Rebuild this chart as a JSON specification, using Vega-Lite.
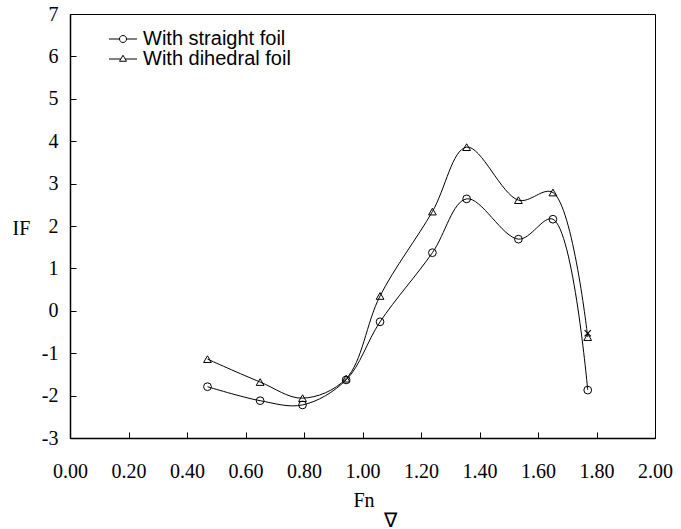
{
  "$schema": "https://vega.github.io/schema/vega-lite/v6.json",
  "width": 585,
  "height": 424,
  "autosize": {"type": "none"},
  "padding": {"left": 70, "top": 14, "right": 26, "bottom": 91},
  "background": "white",
  "config": {
    "view": {"stroke": "black", "strokeWidth": 1},
    "axis": {
      "grid": false,
      "labelFlush": false,
      "labelOverlap": false,
      "domainColor": "black",
      "domainWidth": 1.5,
      "tickColor": "black",
      "tickWidth": 1,
      "tickSize": -6,
      "labelFont": "Liberation Serif",
      "labelFontSize": 20,
      "labelColor": "black",
      "titleFont": "Liberation Serif",
      "titleFontSize": 20,
      "titleFontWeight": "normal",
      "titleColor": "black"
    },
    "legend": {
      "labelFont": "Liberation Sans",
      "labelFontSize": 20,
      "labelColor": "black"
    }
  },
  "data": {
    "values": [
      {"series": "With straight foil", "fn": 0.47, "IF": -1.79},
      {"series": "With straight foil", "fn": 0.65, "IF": -2.12},
      {"series": "With straight foil", "fn": 0.795, "IF": -2.22},
      {"series": "With straight foil", "fn": 0.944, "IF": -1.63},
      {"series": "With straight foil", "fn": 1.06, "IF": -0.26},
      {"series": "With straight foil", "fn": 1.239, "IF": 1.37},
      {"series": "With straight foil", "fn": 1.356, "IF": 2.64},
      {"series": "With straight foil", "fn": 1.533, "IF": 1.69},
      {"series": "With straight foil", "fn": 1.651, "IF": 2.16},
      {"series": "With straight foil", "fn": 1.77, "IF": -1.87},
      {"series": "With dihedral foil", "fn": 0.47, "IF": -1.14},
      {"series": "With dihedral foil", "fn": 0.65, "IF": -1.68},
      {"series": "With dihedral foil", "fn": 0.795, "IF": -2.06},
      {"series": "With dihedral foil", "fn": 0.944, "IF": -1.6},
      {"series": "With dihedral foil", "fn": 1.06, "IF": 0.35},
      {"series": "With dihedral foil", "fn": 1.239, "IF": 2.34},
      {"series": "With dihedral foil", "fn": 1.356, "IF": 3.86},
      {"series": "With dihedral foil", "fn": 1.533, "IF": 2.61},
      {"series": "With dihedral foil", "fn": 1.651, "IF": 2.79},
      {"series": "With dihedral foil", "fn": 1.77, "IF": -0.62},
      {"series": "extra", "fn": 1.77, "IF": -0.53}
    ]
  },
  "encoding": {
    "x": {
      "field": "fn",
      "type": "quantitative",
      "scale": {"domain": [0, 2], "nice": false, "zero": false},
      "axis": {
        "values": [0, 0.2, 0.4, 0.6, 0.8, 1, 1.2, 1.4, 1.6, 1.8, 2],
        "format": ".2f",
        "labelPadding": 29,
        "title": ["Fn", "\u200b\u00a0\u00a0\u00a0\u00a0\u00a0\u00a0∇"],
        "titleAlign": "left",
        "titleBaseline": "alphabetic",
        "titleX": 283,
        "titleY": 68,
        "titleLineHeight": 20
      }
    },
    "y": {
      "field": "IF",
      "type": "quantitative",
      "scale": {"domain": [-3, 7], "nice": false, "zero": false},
      "axis": {
        "values": [-3, -2, -1, 0, 1, 2, 3, 4, 5, 6, 7],
        "labelExpr": "'' + datum.value",
        "labelPadding": 18,
        "title": "IF",
        "titleAngle": 0,
        "titleAlign": "center",
        "titleBaseline": "middle",
        "titleX": -49,
        "titleY": 214
      }
    }
  },
  "layer": [
    {
      "transform": [{"filter": "datum.series != 'extra'"}],
      "mark": {"type": "line", "interpolate": "catmull-rom", "color": "black", "strokeWidth": 1},
      "encoding": {"detail": {"field": "series"}}
    },
    {
      "transform": [{"filter": "datum.series != 'extra'"}],
      "mark": {"type": "point", "filled": false, "color": "black", "strokeWidth": 1, "size": 60, "opacity": 1},
      "encoding": {
        "shape": {
          "field": "series",
          "type": "nominal",
          "scale": {"domain": ["With straight foil", "With dihedral foil"], "range": ["circle", "triangle-up"]},
          "legend": null
        }
      }
    },
    {
      "transform": [{"filter": "datum.series == 'extra'"}],
      "mark": {"type": "point", "filled": false, "color": "black", "strokeWidth": 1.2, "size": 40, "opacity": 1, "shape": "M-1,-1L1,1M-1,1L1,-1"},
      "encoding": {}
    },
    {
      "transform": [{"filter": "datum.fn < 0"}],
      "mark": {"type": "point", "filled": false, "color": "black", "strokeWidth": 1, "opacity": 1},
      "encoding": {
        "shape": {
          "field": "series",
          "type": "nominal",
          "scale": {
            "domain": ["With straight foil", "With dihedral foil"],
            "range": [
              "M-2.8,0L-0.7,0M0.7,0L2.8,0M-0.7,0A0.7,0.7,0,1,0,0.7,0A0.7,0.7,0,1,0,-0.7,0",
              "M-2.8,0L-0.44,0M0.44,0L2.8,0M-0.7,0.45L0,-0.75L0.7,0.45Z"
            ]
          },
          "legend": {
            "title": null,
            "orient": "none",
            "legendX": 43,
            "legendY": 15,
            "padding": 0,
            "symbolSize": 100,
            "symbolStrokeWidth": 1,
            "symbolStrokeColor": "black",
            "symbolFillColor": "transparent",
            "labelOffset": 10,
            "rowPadding": -1,
            "symbolType": "circle"
          }
        }
      }
    }
  ],
  "resolve": {"scale": {"shape": "independent"}, "legend": {"shape": "independent"}}
}
